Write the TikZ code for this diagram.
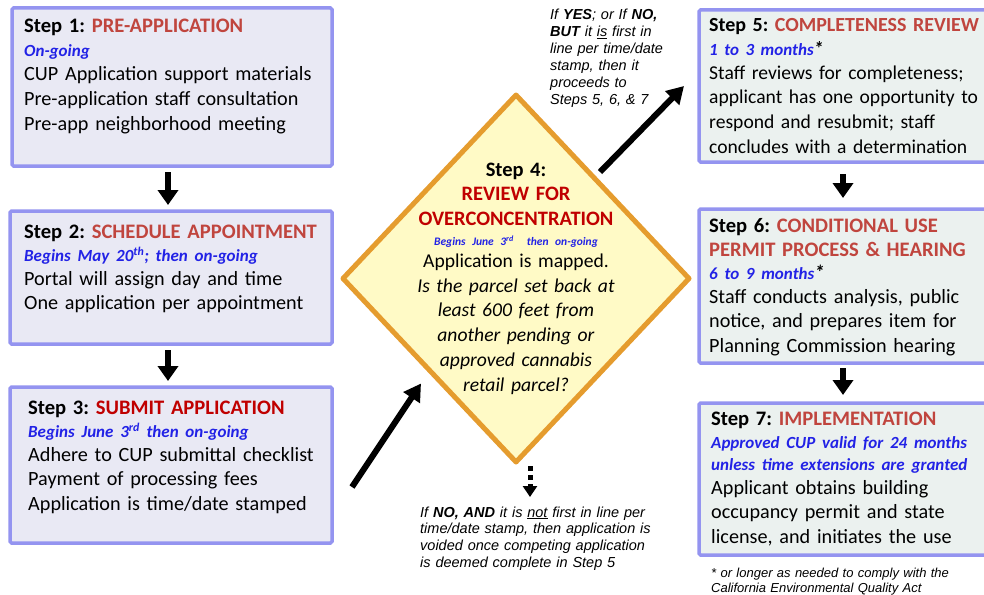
\documentclass[tikz,border=0pt]{standalone}
\usepackage{fontspec}
\setmainfont{Carlito}
\newfontfamily\notefont{Liberation Sans}
\usetikzlibrary{arrows.meta,shapes.geometric}
\frenchspacing

\definecolor{edgeblue}{HTML}{9494F0}
\definecolor{fillA}{HTML}{E9E9F4}
\definecolor{fillB}{HTML}{EBF1EF}
\definecolor{stepred}{HTML}{C0453E}
\definecolor{deepred}{HTML}{C00000}
\definecolor{timeblue}{HTML}{2222E6}
\definecolor{diaedge}{HTML}{E59C2E}
\definecolor{diafill}{HTML}{FFFAC6}

% title line of a step box: black label, red name
\newcommand{\steptitle}[3][stepred]{{\fontsize{20.6}{24.5}\selectfont\bfseries #2 \textcolor{#1}{#3}}}
% blue timing line
\newcommand{\timing}[2][17]{{\fontsize{#1}{24.5}\selectfont\bfseries\itshape\color{timeblue}#2}}

\begin{document}
\begin{tikzpicture}[x=1pt,y=-1pt,
  stepbox/.style={draw=edgeblue, line width=3.5pt, rounded corners=1.5pt,
    anchor=north west, inner sep=0pt, outer sep=0pt},
  boxA/.style={stepbox, fill=fillA},
  boxB/.style={stepbox, fill=fillB},
  steptext/.style={anchor=base west, inner sep=0pt, align=left, text width=#1,
    font=\fontsize{20.2}{24.5}\selectfont},
  steptext/.default=310,
  notetext/.style={anchor=base west, inner sep=0pt, align=left, text width=#1,
    font=\notefont\itshape\fontsize{14.5}{16.9}\selectfont},
  notetext/.default=270,
  bigarrow/.style={line width=6pt, -{Triangle[width=20pt,length=15pt]}},
  slantarrow/.style={line width=6pt, -{Triangle[width=19pt,length=17pt]}},
  dotarrow/.style={line width=5pt, dash pattern=on 5pt off 4pt,
    -{Triangle[width=14pt,length=11pt]}},
]
\useasboundingbox (0,0) rectangle (984,594);
\clip (0,0) rectangle (984,594);

% ---- left column: steps 1-3
\node[boxA, minimum width=320, minimum height=158] (s1) at (12,8) {};
\node[boxA, minimum width=322, minimum height=133] (s2) at (10,211) {};
\node[boxA, minimum width=322, minimum height=156] (s3) at (10,387) {};

\node[steptext] (t1) at (24,33) {\steptitle{Step 1:}{PRE-APPLICATION}\\[-0.5pt]
  \timing{On-going}\\[-0.5pt]
  CUP Application support materials\\
  Pre-application staff consultation\\
  Pre-app neighborhood meeting};

\node[steptext] (t2) at (24,238) {\steptitle{Step 2:}{SCHEDULE APPOINTMENT}\\[-1pt]
  \timing{Begins May 20\textsuperscript{th}; then on-going}\\[-1pt]
  Portal will assign day and time\\
  One application per appointment};

\node[steptext] (t3) at (28,414) {\steptitle[deepred]{Step 3:}{SUBMIT APPLICATION}\\[-1pt]
  \timing{Begins June 3\textsuperscript{rd} then on-going}\\[-1pt]
  Adhere to CUP submittal checklist\\
  Payment of processing fees\\
  Application is time/date stamped};

% ---- centre: step 4 decision
\node[diamond, draw=diaedge, fill=diafill, line width=5pt, line join=round,
  minimum width=346, minimum height=367, inner sep=0pt, outer sep=0pt] (d4) at (516,278.5) {};

\node[anchor=base, inner sep=0pt, align=center, text width=300,
  font=\fontsize{19.6}{24.8}\selectfont] (t4) at (516,176) {{\fontsize{20.5}{24.8}\selectfont\bfseries Step 4:}\\
  {\fontsize{20.5}{24.8}\selectfont\bfseries\color{deepred}REVIEW FOR}\\
  {\fontsize{20.5}{24.8}\selectfont\bfseries\color{deepred}OVERCONCENTRATION}\\[-5pt]
  {\fontsize{11.5}{13}\selectfont\bfseries\itshape\color{timeblue}Begins June 3\textsuperscript{rd}\ \ then on-going}\\[-3pt]
  Application is mapped.\\
  \textit{Is the parcel set back at}\\
  \textit{least 600 feet from}\\
  \textit{another pending or}\\
  \textit{approved cannabis}\\
  \textit{retail parcel?}};

% ---- right column: steps 5-7
\node[boxB, minimum width=301, minimum height=152] (s5) at (699,10) {};
\node[boxB, minimum width=301, minimum height=154] (s6) at (699,209) {};
\node[boxB, minimum width=301, minimum height=152] (s7) at (699,403) {};

\node[steptext=280, font=\fontsize{19.6}{24.5}\selectfont] (t5) at (709,32)
  {{\fontsize{20}{24.5}\selectfont\bfseries Step 5: \textcolor{stepred}{COMPLETENESS REVIEW}}\\[-1pt]
  \timing{1 to 3 months}\textbf{\textit{*}}\\[-0.5pt]
  Staff reviews for completeness;\\
  applicant has one opportunity to\\
  respond and resubmit; staff\\
  concludes with a determination};

\node[steptext=275] (t6) at (709,232) {\steptitle{Step 6:}{CONDITIONAL USE}\\[-0.5pt]
  {\fontsize{20.6}{24.5}\selectfont\bfseries\color{stepred}PERMIT PROCESS \& HEARING}\\[-1.5pt]
  \timing{6 to 9 months}\textbf{\textit{*}}\\[-0.5pt]
  Staff conducts analysis, public\\
  notice, and prepares item for\\
  Planning Commission hearing};

\node[steptext=270] (t7) at (711,425) {\steptitle{Step 7:}{IMPLEMENTATION}\\[-1.5pt]
  \timing{Approved CUP valid for 24 months}\\[-2.5pt]
  \timing{unless time extensions are granted}\\[-0.5pt]
  Applicant obtains building\\
  occupancy permit and state\\
  license, and initiates the use};

% ---- connectors
\draw[bigarrow, shorten <=6pt, shorten >=6pt]
  ([xshift=-4pt]s1.south) -- ([xshift=-4pt]s1.south |- s2.north);
\draw[bigarrow, shorten <=6pt, shorten >=6pt]
  ([xshift=-3pt]s2.south) -- ([xshift=-3pt]s2.south |- s3.north);
\draw[bigarrow, shorten <=12pt, shorten >=11pt]
  ([xshift=-6.5pt]s5.south) -- ([xshift=-6.5pt]s5.south |- s6.north);
\draw[bigarrow, shorten <=5pt, shorten >=8pt]
  ([xshift=-6.5pt]s6.south) -- ([xshift=-6.5pt]s6.south |- s7.north);

\draw[slantarrow] ([shift={(20,100)}]s3.north east) -- ([shift={(78,105)}]d4.west);
\draw[slantarrow] ([shift={(84,77)}]d4.north) -- ([shift={(-15,0)}]s5.west);
\draw[dotarrow] ([shift={(14,4)}]d4.south) -- ([shift={(14,35)}]d4.south);

% ---- notes
\node[notetext=150] (n1) at (550,20) {If \textbf{YES}; or If \textbf{NO,}\\
  \textbf{BUT} it \underline{is} first in\\
  line per time/date\\
  stamp, then it\\
  proceeds to\\
  Steps 5, 6, \& 7};

\node[notetext=270] (n2) at (420,517) {If \textbf{NO, AND} it is \underline{not} first in line per\\
  time/date stamp, then application is\\
  voided once competing application\\
  is deemed complete in Step 5};

\node[anchor=base west, inner sep=0pt, align=left, text width=270,
  font=\notefont\itshape\fontsize{13}{15}\selectfont] (n3) at (711,577)
  {* or longer as needed to comply with the\\
   California Environmental Quality Act};
\end{tikzpicture}
\end{document}
